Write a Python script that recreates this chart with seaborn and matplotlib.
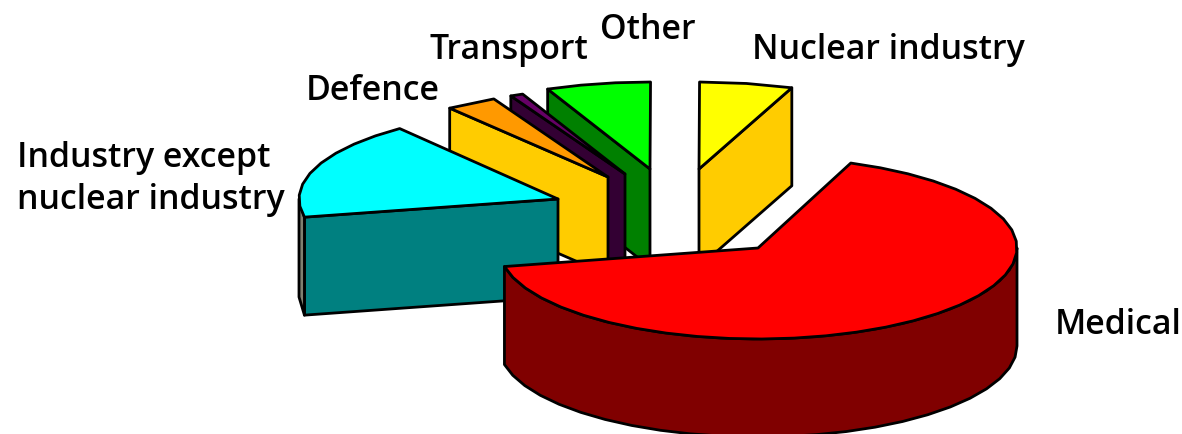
import numpy as np
import seaborn as sns
import matplotlib.pyplot as plt

sectors = ["Nuclear industry", "Other", "Transport", "Defence",
           "Industry except\nnuclear industry", "Medical"]
shares = [5.8, 6.5, 0.8, 3.2, 17.8, 65.9]

top_colors = ["#ffff00", "#00ff00", "#660066", "#ff9900", "#00ffff", "#ff0000"]
cut_colors = ["#ffcc00", "#008000", "#330033", "#ffcc00", "#008080", "#800000"]
rim_colors = ["#ffcc00", "#008000", "#330033", "#ffcc00", "#808070", "#800000"]

# exploded apex of each slice in the picture
apex_x = [699, 650, 625, 608, 558, 758]
apex_y = [170, 170, 175, 178, 200, 249]
radius_y = [87, 87, 87, 87, 89, 91]
label_x = [752, 600, 429, 306, 17, 1055]
label_y = [59, 39, 59, 100, 167, 334]

rx = 259
depth = 98
start = 69
draw_order = [1, 2, 3, 0, 4, 5]

sns.set_theme(style="white")
plt.rcParams["font.family"] = ["Open Sans", "DejaVu Sans"]

fig = plt.figure(figsize=(11.82, 4.35), dpi=100)
ax = fig.add_axes([0, 0, 1, 1])
ax.set_xlim(0, 1182)
ax.set_ylim(435, 0)
ax.axis("off")

angles = start + np.cumsum([0] + shares) * 3.6


def arc(i, t0, t1):
    n = max(int(abs(t1 - t0) / 7), 1) + 1
    t = np.radians(np.linspace(t0, t1, n))
    return apex_x[i] + rx * np.cos(t), apex_y[i] - radius_y[i] * np.sin(t)


def wall(xs, ys, color):
    px = np.r_[xs, xs[::-1]]
    py = np.r_[ys, ys[::-1] + depth]
    ax.fill(px, py, facecolor=color, edgecolor="black", lw=2, joinstyle="round")


for i in draw_order:
    t0, t1 = angles[i], angles[i + 1]
    xs, ys = arc(i, t0, t1)

    # cut faces turned to the viewer
    if i == 0:
        wall(np.array([xs[0], apex_x[i]]), np.array([ys[0], apex_y[i]]), cut_colors[i])
    elif i != 5:
        wall(np.array([xs[-1], apex_x[i]]), np.array([ys[-1], apex_y[i]]), cut_colors[i])

    # outer rim where the arc is in front
    lo, hi = max(t0, 180), min(t1, 360)
    if hi > lo:
        rim_x, rim_y = arc(i, lo, hi)
        wall(rim_x, rim_y, rim_colors[i])

    ax.fill(np.r_[apex_x[i], xs], np.r_[apex_y[i], ys], facecolor=top_colors[i],
            edgecolor="black", lw=2, joinstyle="round")

for name, x, y in zip(sectors, label_x, label_y):
    for k, part in enumerate(name.split("\n")):
        ax.text(x, y + 42 * k, part, fontsize=24.4, fontweight="semibold",
                color="black", va="baseline")

fig.savefig("out.png", dpi=100)
